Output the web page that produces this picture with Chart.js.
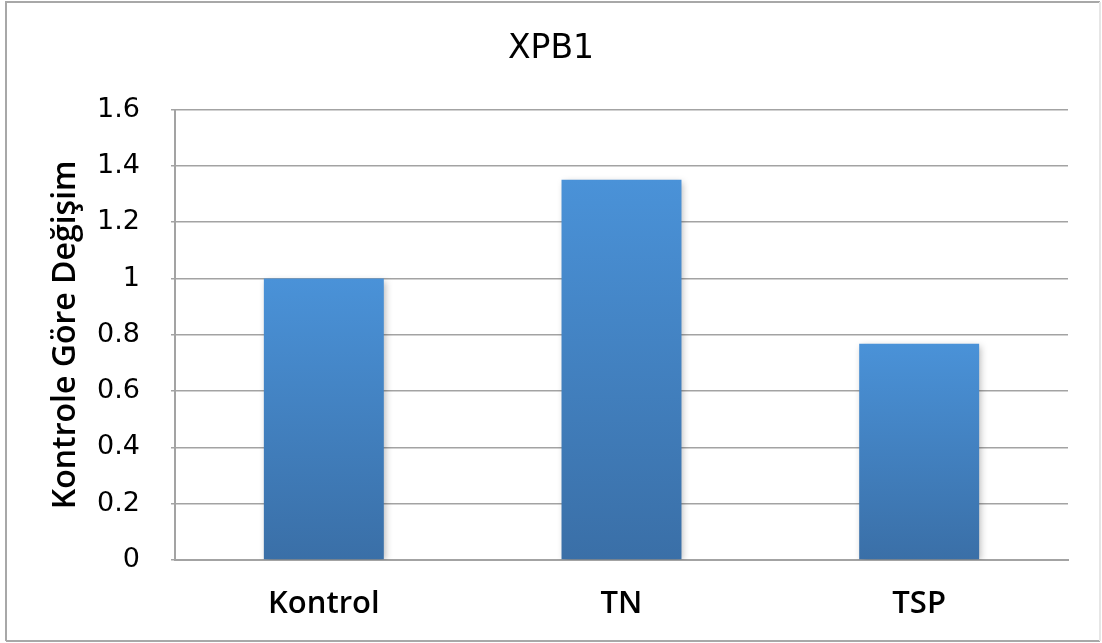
<!DOCTYPE html>
<html>
<head>
<meta charset="utf-8">
<title>XPB1</title>
<script src="https://cdn.jsdelivr.net/npm/chart.js@4/dist/chart.umd.min.js"></script>
<style>
  html, body { margin: 0; padding: 0; background: #ffffff; }
  #wrap { position: relative; width: 1102px; height: 643px; }
</style>
</head>
<body>
<div id="wrap"><canvas id="chart"></canvas></div>
<script>
// Gene expression relative to control
const categories = ['Kontrol', 'TN', 'TSP'];
const foldChange = [1.0, 1.351, 0.768];
const chartTitle = 'XPB1';
const yAxisTitle = 'Kontrole Göre Değişim';
const yMin = 0, yMax = 1.6, yStep = 0.2;

const GRID = '#a3a3a3';

// Frame drawn around the whole figure
const framePlugin = {
  id: 'frame',
  beforeDraw(chart) {
    const c = chart.ctx;
    c.save();
    c.fillStyle = '#ffffff';
    c.fillRect(0, 0, chart.width, chart.height);
    c.lineWidth = 2;
    c.strokeStyle = '#a8a8a8';
    c.beginPath();
    c.moveTo(6, 641); c.lineTo(6, 2); c.lineTo(1100, 2);
    c.moveTo(6, 641); c.lineTo(1100, 641);
    c.stroke();
    c.strokeStyle = '#e6e6e6';
    c.beginPath();
    c.moveTo(1100, 2); c.lineTo(1100, 641);
    c.stroke();
    c.restore();
  }
};

// Soft drop shadow under the bars
const shadowPlugin = {
  id: 'barShadow',
  beforeDatasetDraw(chart) {
    const c = chart.ctx;
    c.save();
    c.shadowColor = 'rgba(0,0,0,0.28)';
    c.shadowBlur = 7;
    c.shadowOffsetX = 2;
    c.shadowOffsetY = 2;
  },
  afterDatasetDraw(chart) {
    chart.ctx.restore();
  }
};

function barGradient(context) {
  const chart = context.chart;
  if (!chart.chartArea) return '#4690d4';
  const y = chart.scales.y;
  const top = y.getPixelForValue(context.raw);
  const bottom = y.getPixelForValue(0);
  const g = chart.ctx.createLinearGradient(0, top, 0, bottom);
  g.addColorStop(0, '#4a92d8');
  g.addColorStop(1, '#3a6fa7');
  return g;
}

new Chart(document.getElementById('chart'), {
  type: 'bar',
  data: {
    labels: categories,
    datasets: [{
      data: foldChange,
      backgroundColor: barGradient,
      borderWidth: 0,
      categoryPercentage: 0.403,
      barPercentage: 1.0
    }]
  },
  plugins: [framePlugin, shadowPlugin],
  options: {
    responsive: true,
    maintainAspectRatio: false,
    animation: false,
    layout: { padding: 0 },
    plugins: {
      legend: { display: false },
      tooltip: { enabled: false },
      title: {
        display: true,
        text: chartTitle,
        color: '#000000',
        font: { family: 'DejaVu Sans', size: 33, weight: 500 },
        padding: { top: 30, bottom: 40 }
      }
    },
    scales: {
      x: {
        grid: { display: false, drawTicks: false },
        border: { display: true, color: GRID, width: 2 },
        ticks: {
          color: '#000000',
          padding: 26,
          font: { family: 'Open Sans', size: 31, weight: 600 }
        },
        afterFit(scale) { scale.height = 83; }
      },
      y: {
        min: yMin,
        max: yMax,
        ticks: {
          stepSize: yStep,
          color: '#000000',
          padding: 31,
          font: { family: 'DejaVu Sans', size: 27 },
          callback: (v) => String(Math.round(v * 10) / 10)
        },
        grid: { color: GRID, lineWidth: 1.5, tickLength: 4, drawTicks: true },
        border: { display: true, color: GRID, width: 2 },
        title: {
          display: true,
          text: yAxisTitle,
          color: '#000000',
          font: { family: 'Open Sans', size: 32, weight: 600 },
          padding: { top: 47, bottom: 0 }
        },
        afterFit(scale) { scale.width = 175; }
      },
      // empty margin on the right of the plot
      yRight: {
        position: 'right',
        min: yMin,
        max: yMax,
        grid: { display: false, drawTicks: false },
        border: { display: false },
        ticks: { display: false },
        afterFit(scale) { scale.width = 34; }
      }
    }
  }
});
</script>
</body>
</html>
